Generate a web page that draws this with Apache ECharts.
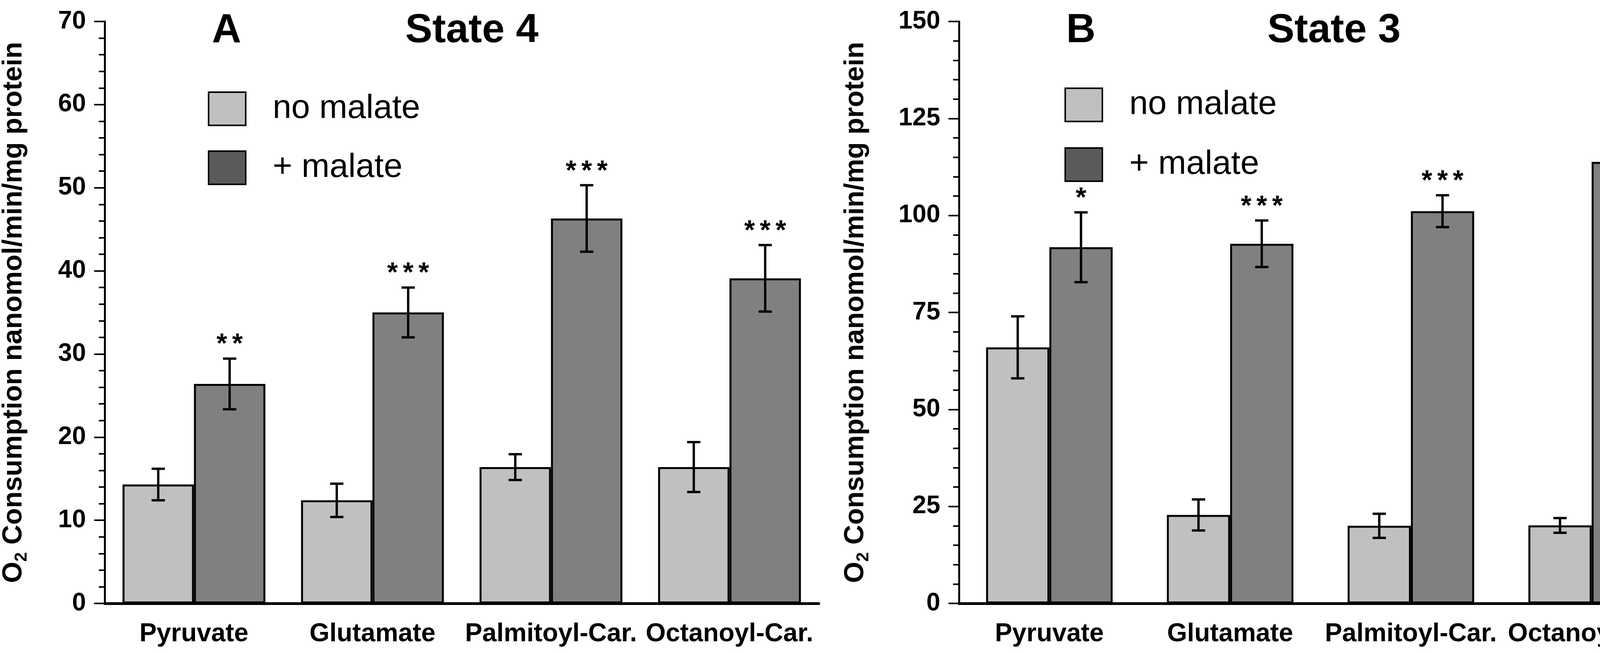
<!DOCTYPE html>
<html>
<head>
<meta charset="utf-8">
<script src="https://cdn.jsdelivr.net/npm/echarts@6/dist/echarts.min.js"></script>
<style>
  html, body { margin: 0; padding: 0; background: #fff; }
  #main { width: 4341px; height: 1672px; }
</style>
</head>
<body>
<div id="main"></div>
<script>
(function () {
    // categories and values
    var categories = ['Pyruvate', 'Glutamate', 'Palmitoyl-Car.', 'Octanoyl-Car.'];

    // State 4 (panel A)
    var s4NoMalate = [14.3, 12.4, 16.4, 16.4];
    var s4NoMalateErr = [1.9, 2.0, 1.55, 3.0];
    var s4Malate = [26.4, 35.0, 46.3, 39.1];
    var s4MalateErr = [3.05, 3.0, 4.0, 4.0];
    var s4Stars = ['**', '***', '***', '***'];

    // State 3 (panel B)
    var s3NoMalate = [66.0, 22.8, 20.0, 20.1];
    var s3NoMalateErr = [8.0, 4.0, 3.1, 1.9];
    var s3Malate = [91.8, 92.7, 101.1, 113.8];
    var s3MalateErr = [9.0, 6.0, 4.1, 5.0];
    var s3Stars = ['*', '***', '***', '***'];

    var font = 'Liberation Sans, Arial, sans-serif';
    var lightColor = '#c0c0c0';
    var darkColor = '#808080';

    var myChart = echarts.init(document.getElementById('main'));

    // [category index, side (0 = no malate, 1 = + malate), mean, error]
    function errData(noMal, noMalErr, mal, malErr) {
        var out = [];
        for (var i = 0; i < categories.length; i++) {
            out.push([i, 0, noMal[i], noMalErr[i]]);
            out.push([i, 1, mal[i], malErr[i]]);
        }
        return out;
    }

    function errRender(barFrac, stars) {
        return function (params, api) {
            var cat = api.value(0), side = api.value(1);
            var mean = api.value(2), err = api.value(3);
            var band = api.size([1, 0])[0];
            var bw = band * barFrac;
            var c = api.coord([cat, mean]);
            var x = c[0] + (side ? bw / 2 : -bw / 2);
            var yTop = api.coord([cat, mean + err])[1];
            var yBot = api.coord([cat, mean - err])[1];
            var cap = 17;
            var ls = { stroke: '#000', lineWidth: 6 };
            var kids = [
                { type: 'line', shape: { x1: x, y1: yTop, x2: x, y2: yBot }, style: ls },
                { type: 'line', shape: { x1: x - cap, y1: yTop, x2: x + cap, y2: yTop }, style: ls },
                { type: 'line', shape: { x1: x - cap, y1: yBot, x2: x + cap, y2: yBot }, style: ls }
            ];
            if (side === 1) {
                // significance stars, spaced like the original
                var s = stars[cat];
                var step = 40;
                for (var k = 0; k < s.length; k++) {
                    kids.push({
                        type: 'text',
                        style: {
                            text: s[k],
                            x: x + (k - (s.length - 1) / 2) * step,
                            y: yTop - 34,
                            align: 'center',
                            verticalAlign: 'middle',
                            font: 'bold 70px ' + font,
                            fill: '#000'
                        }
                    });
                }
            }
            return { type: 'group', children: kids };
        };
    }

    function yAxis(gridIndex, max, interval, gap) {
        return {
            type: 'value',
            gridIndex: gridIndex,
            min: 0,
            max: max,
            interval: interval,
            name: '{a|O}{sub|2}{a| Consumption nanomol/min/mg protein}',
            nameLocation: 'middle',
            nameGap: gap,
            nameRotate: 90,
            nameTextStyle: {
                rich: {
                    a: { fontSize: 70, fontWeight: 'bold', fontFamily: font, color: '#000', lineHeight: 84 },
                    sub: { fontSize: 44, fontWeight: 'bold', fontFamily: font, color: '#000', lineHeight: 84, verticalAlign: 'bottom', padding: [18, 0, 0, 0] }
                }
            },
            axisLine: { show: true, lineStyle: { color: '#000', width: 5 } },
            axisTick: { show: true, inside: false, length: 27, lineStyle: { color: '#000', width: 4 } },
            minorTick: { show: true, splitNumber: 5, length: 15, lineStyle: { color: '#000', width: 4 } },
            splitLine: { show: false },
            axisLabel: { margin: 48, fontSize: 64, fontWeight: 'bold', fontFamily: font, color: '#000' }
        };
    }

    function xAxis(gridIndex) {
        return {
            type: 'category',
            gridIndex: gridIndex,
            data: categories,
            axisLine: { show: true, lineStyle: { color: '#000', width: 7 } },
            axisTick: { show: false },
            axisLabel: { margin: 46, fontSize: 66, fontWeight: 'bold', fontFamily: font, color: '#000', interval: 0 }
        };
    }

    function legend(left, top, gap) {
        return {
            orient: 'vertical',
            left: left,
            top: top,
            itemWidth: 95,
            itemHeight: 85,
            itemGap: gap,
            icon: 'rect',
            selectedMode: false,
            itemStyle: { borderColor: '#000', borderWidth: 4 },
            textStyle: { fontSize: 86, fontFamily: font, color: '#000', padding: [0, 0, 0, 64] },
            data: [
                { name: 'no malate', itemStyle: { color: lightColor } },
                { name: '+ malate', itemStyle: { color: '#5a5a5a' } }
            ]
        };
    }

    function bars(name, data, color, idx, width) {
        return {
            name: name,
            type: 'bar',
            xAxisIndex: idx,
            yAxisIndex: idx,
            data: data,
            barWidth: width,
            barGap: '0%',
            itemStyle: { color: color, borderColor: '#000', borderWidth: 5 },
            z: 2
        };
    }

    var titleFont = 'bold 104px ' + font;

    option = {
        backgroundColor: '#fff',
        animation: false,
        grid: [
            { left: 249, right: 2245, top: 55, bottom: 127 },
            { left: 2455, right: 35, top: 55, bottom: 127 }
        ],
        xAxis: [xAxis(0), xAxis(1)],
        yAxis: [yAxis(0, 70, 10, 190), yAxis(1, 150, 25, 222)],
        legend: [legend(527, 229, 62), legend(2720, 219, 64)],
        graphic: [
            { type: 'text', style: { text: 'A', x: 580, y: 79, align: 'center', verticalAlign: 'middle', font: titleFont, fill: '#000' } },
            { type: 'text', style: { text: 'State 4', x: 1208, y: 79, align: 'center', verticalAlign: 'middle', font: titleFont, fill: '#000' } },
            { type: 'text', style: { text: 'B', x: 2767, y: 79, align: 'center', verticalAlign: 'middle', font: titleFont, fill: '#000' } },
            { type: 'text', style: { text: 'State 3', x: 3415, y: 79, align: 'center', verticalAlign: 'middle', font: titleFont, fill: '#000' } }
        ],
        series: [
            bars('no malate', s4NoMalate, lightColor, 0, '40%'),
            bars('+ malate', s4Malate, darkColor, 0, '40%'),
            bars('no malate', s3NoMalate, lightColor, 1, '35%'),
            bars('+ malate', s3Malate, darkColor, 1, '35%'),
            {
                type: 'custom',
                xAxisIndex: 0,
                yAxisIndex: 0,
                z: 5,
                renderItem: errRender(0.4, s4Stars),
                data: errData(s4NoMalate, s4NoMalateErr, s4Malate, s4MalateErr)
            },
            {
                type: 'custom',
                xAxisIndex: 1,
                yAxisIndex: 1,
                z: 5,
                renderItem: errRender(0.35, s3Stars),
                data: errData(s3NoMalate, s3NoMalateErr, s3Malate, s3MalateErr)
            }
        ]
    };
    myChart.setOption(option);
})()
</script>
</body>
</html>
